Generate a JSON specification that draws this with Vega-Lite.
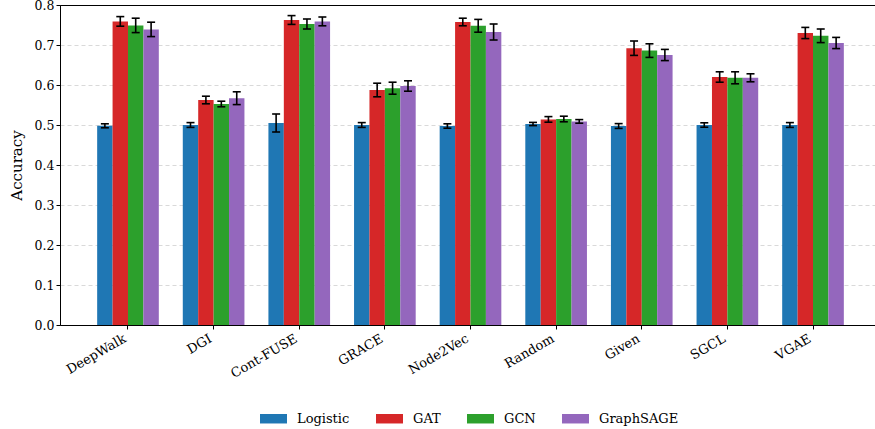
{
  "$schema": "https://vega.github.io/schema/vega-lite/v6.json",
  "width": 821,
  "height": 320,
  "autosize": {"type": "none"},
  "padding": {"left": 60, "top": 5, "right": 0, "bottom": 104},
  "config": {
    "font": "DejaVu Serif",
    "view": {"stroke": "black", "strokeWidth": 1},
    "axis": {"labelColor": "black", "titleColor": "black", "domainColor": "black", "tickColor": "black", "labelFont": "DejaVu Serif", "titleFont": "DejaVu Serif"},
    "axisY": {"title": "Accuracy", "titleFontSize": 15, "titleFontWeight": "normal", "titlePadding": 10, "labelFontSize": 12.5, "labelOverlap": false, "tickSize": 4, "grid": true, "gridColor": "#d9d9d9", "gridDash": [4, 3], "gridWidth": 1, "domainColor": "black"}
  },
  "data": {
    "values": [
      {"method": "DeepWalk", "model": "Logistic", "v": 0.498, "lo": 0.493, "hi": 0.503},
      {"method": "DeepWalk", "model": "GAT", "v": 0.759, "lo": 0.747, "hi": 0.771},
      {"method": "DeepWalk", "model": "GCN", "v": 0.749, "lo": 0.731, "hi": 0.767},
      {"method": "DeepWalk", "model": "GraphSAGE", "v": 0.739, "lo": 0.721, "hi": 0.757},
      {"method": "DGI", "model": "Logistic", "v": 0.5, "lo": 0.494, "hi": 0.506},
      {"method": "DGI", "model": "GAT", "v": 0.5625, "lo": 0.553, "hi": 0.572},
      {"method": "DGI", "model": "GCN", "v": 0.5525, "lo": 0.5455, "hi": 0.5595},
      {"method": "DGI", "model": "GraphSAGE", "v": 0.567, "lo": 0.551, "hi": 0.583},
      {"method": "Cont-FUSE", "model": "Logistic", "v": 0.505, "lo": 0.4825, "hi": 0.5275},
      {"method": "Cont-FUSE", "model": "GAT", "v": 0.7625, "lo": 0.7515, "hi": 0.7735},
      {"method": "Cont-FUSE", "model": "GCN", "v": 0.7525, "lo": 0.74, "hi": 0.765},
      {"method": "Cont-FUSE", "model": "GraphSAGE", "v": 0.759, "lo": 0.748, "hi": 0.77},
      {"method": "GRACE", "model": "Logistic", "v": 0.5, "lo": 0.494, "hi": 0.506},
      {"method": "GRACE", "model": "GAT", "v": 0.5875, "lo": 0.5705, "hi": 0.6045},
      {"method": "GRACE", "model": "GCN", "v": 0.592, "lo": 0.577, "hi": 0.607},
      {"method": "GRACE", "model": "GraphSAGE", "v": 0.5975, "lo": 0.5845, "hi": 0.6105},
      {"method": "Node2Vec", "model": "Logistic", "v": 0.4975, "lo": 0.492, "hi": 0.503},
      {"method": "Node2Vec", "model": "GAT", "v": 0.7575, "lo": 0.748, "hi": 0.767},
      {"method": "Node2Vec", "model": "GCN", "v": 0.748, "lo": 0.732, "hi": 0.764},
      {"method": "Node2Vec", "model": "GraphSAGE", "v": 0.7325, "lo": 0.7125, "hi": 0.7525},
      {"method": "Random", "model": "Logistic", "v": 0.5025, "lo": 0.4985, "hi": 0.5065},
      {"method": "Random", "model": "GAT", "v": 0.514, "lo": 0.507, "hi": 0.521},
      {"method": "Random", "model": "GCN", "v": 0.515, "lo": 0.508, "hi": 0.522},
      {"method": "Random", "model": "GraphSAGE", "v": 0.509, "lo": 0.5045, "hi": 0.5135},
      {"method": "Given", "model": "Logistic", "v": 0.4975, "lo": 0.4915, "hi": 0.5035},
      {"method": "Given", "model": "GAT", "v": 0.692, "lo": 0.674, "hi": 0.71},
      {"method": "Given", "model": "GCN", "v": 0.686, "lo": 0.669, "hi": 0.703},
      {"method": "Given", "model": "GraphSAGE", "v": 0.675, "lo": 0.661, "hi": 0.689},
      {"method": "SGCL", "model": "Logistic", "v": 0.5, "lo": 0.4945, "hi": 0.5055},
      {"method": "SGCL", "model": "GAT", "v": 0.62, "lo": 0.607, "hi": 0.633},
      {"method": "SGCL", "model": "GCN", "v": 0.618, "lo": 0.603, "hi": 0.633},
      {"method": "SGCL", "model": "GraphSAGE", "v": 0.618, "lo": 0.608, "hi": 0.628},
      {"method": "VGAE", "model": "Logistic", "v": 0.5, "lo": 0.494, "hi": 0.506},
      {"method": "VGAE", "model": "GAT", "v": 0.73, "lo": 0.716, "hi": 0.744},
      {"method": "VGAE", "model": "GCN", "v": 0.723, "lo": 0.706, "hi": 0.74},
      {"method": "VGAE", "model": "GraphSAGE", "v": 0.705, "lo": 0.691, "hi": 0.719}
    ]
  },
  "encoding": {
    "x": {
      "field": "method",
      "type": "nominal",
      "sort": ["DeepWalk", "DGI", "Cont-FUSE", "GRACE", "Node2Vec", "Random", "Given", "SGCL", "VGAE"],
      "scale": {"paddingInner": 0.28, "paddingOuter": 0.434},
      "axis": {"title": null, "labelAngle": -30, "labelAlign": "right", "labelBaseline": "top", "labelFontSize": 13, "tickSize": 4, "labelPadding": 3, "labelOffset": -6, "domain": false}
    },
    "xOffset": {
      "field": "model",
      "type": "nominal",
      "sort": ["Logistic", "GAT", "GCN", "GraphSAGE"],
      "scale": {"paddingInner": 0, "paddingOuter": 0}
    }
  },
  "layer": [
    {
      "mark": {"type": "bar", "opacity": 1},
      "encoding": {
        "y": {
          "field": "v",
          "type": "quantitative",
          "scale": {"domain": [0, 0.8], "nice": false},
          "axis": {"title": "Accuracy", "values": [0, 0.1, 0.2, 0.3, 0.4, 0.5, 0.6, 0.7, 0.8], "format": ".1f", "labelOverlap": false, "gridOpacity": {"condition": {"test": "datum.value > 0.01 && datum.value < 0.79", "value": 1}, "value": 0}}
        },
        "color": {
          "field": "model",
          "type": "nominal",
          "sort": ["Logistic", "GAT", "GCN", "GraphSAGE"],
          "scale": {"domain": ["Logistic", "GAT", "GCN", "GraphSAGE"], "range": ["#1f77b4", "#d62728", "#2ca02c", "#9467bd"]},
          "legend": {"title": null, "orient": "none", "direction": "horizontal", "legendX": 200, "legendY": 400, "symbolType": "M-1,-0.35L1,-0.35L1,0.35L-1,0.35Z", "symbolSize": 729, "symbolStrokeWidth": 0, "symbolOpacity": 1, "labelFontSize": 13, "labelColor": "black", "labelOffset": 10, "columnPadding": 26}
        }
      }
    },
    {
      "mark": {"type": "rule", "color": "black", "strokeWidth": 1.6},
      "encoding": {
        "y": {"field": "lo", "type": "quantitative", "axis": {"title": "Accuracy", "values": [0, 0.1, 0.2, 0.3, 0.4, 0.5, 0.6, 0.7, 0.8], "format": ".1f", "labelOverlap": false, "gridOpacity": {"condition": {"test": "datum.value > 0.01 && datum.value < 0.79", "value": 1}, "value": 0}}},
        "y2": {"field": "hi"}
      }
    },
    {
      "mark": {"type": "tick", "color": "black", "size": 8, "thickness": 1.6, "opacity": 1},
      "encoding": {"y": {"field": "lo", "type": "quantitative", "axis": {"title": "Accuracy", "values": [0, 0.1, 0.2, 0.3, 0.4, 0.5, 0.6, 0.7, 0.8], "format": ".1f", "labelOverlap": false, "gridOpacity": {"condition": {"test": "datum.value > 0.01 && datum.value < 0.79", "value": 1}, "value": 0}}}}
    },
    {
      "mark": {"type": "tick", "color": "black", "size": 8, "thickness": 1.6, "opacity": 1},
      "encoding": {"y": {"field": "hi", "type": "quantitative", "axis": {"title": "Accuracy", "values": [0, 0.1, 0.2, 0.3, 0.4, 0.5, 0.6, 0.7, 0.8], "format": ".1f", "labelOverlap": false, "gridOpacity": {"condition": {"test": "datum.value > 0.01 && datum.value < 0.79", "value": 1}, "value": 0}}}}
    }
  ]
}
